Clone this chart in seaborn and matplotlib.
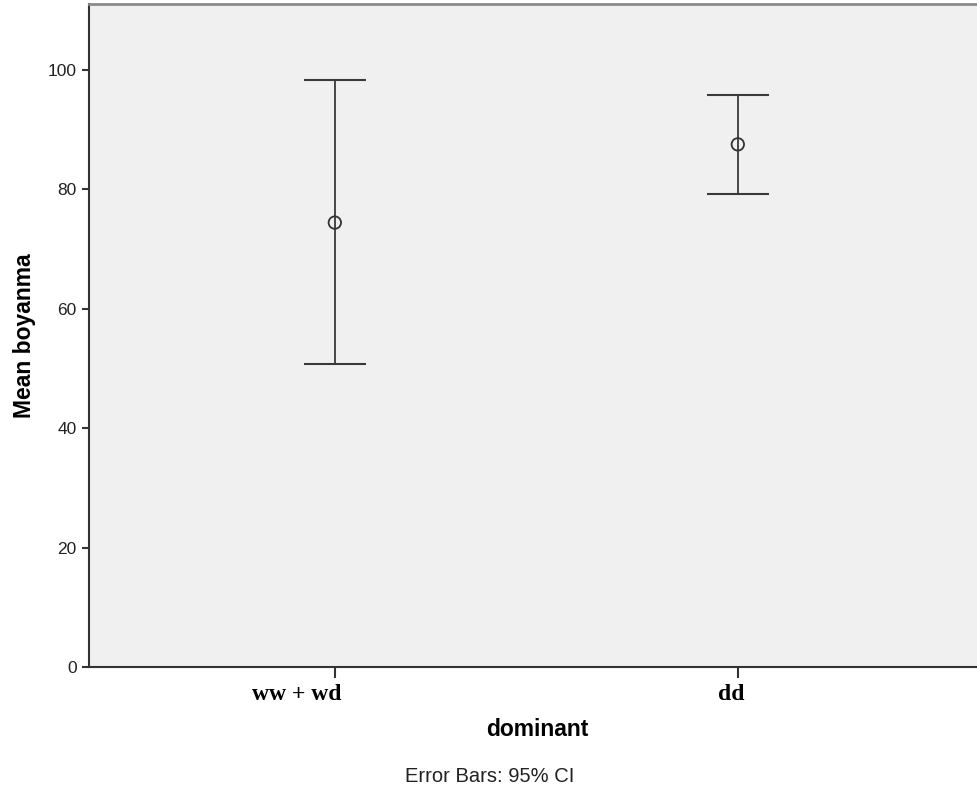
import matplotlib
matplotlib.use("Agg")
import matplotlib.pyplot as plt
import matplotlib.transforms as mtransforms
import seaborn as sns
import pandas as pd

categories = ["ww + wd", "dd"]
means = [74.4, 87.5]
ci_lower = [50.7, 79.2]
ci_upper = [98.2, 95.7]

sns.set_theme(style="white")
plt.rcParams['font.family'] = ['Liberation Sans', 'DejaVu Sans']

df = pd.DataFrame({"dominant": categories, "mean": means})

fig = plt.figure(figsize=(9.78, 7.94), dpi=100)
ax = fig.add_axes([89/978, 127/794, 1 - 89/978, (667-4)/794])
ax.set_facecolor("#F0F0F0")

xpos = list(range(len(categories)))
yerr = [[m - l for m, l in zip(means, ci_lower)], [u - m for m, u in zip(means, ci_upper)]]
ax.errorbar(xpos, means, yerr=yerr, fmt="none", ecolor="#3a3a3a", elinewidth=1.3,
            capsize=22, capthick=1.5, zorder=2)
sns.scatterplot(data=df, x="dominant", y="mean", ax=ax, marker="o", s=80,
                facecolor="none", edgecolor="#333333", linewidth=1.3, zorder=3)

ax.set_xlim(-0.61, 1.596)
ax.set_ylim(0, 111)
ax.set_yticks([0, 20, 40, 60, 80, 100])
ax.set_xticks(xpos)
ax.set_xticklabels([])
# SPSS-style labels: right edge slightly past the tick
offset = mtransforms.ScaledTranslation(7/100, -17/100, fig.dpi_scale_trans)
for xp, cat in zip(xpos, categories):
    ax.text(xp, 0, cat, transform=ax.get_xaxis_transform() + offset,
            ha="right", va="top", fontfamily="Liberation Serif", fontweight="bold",
            fontsize=17, color="black", clip_on=False)
ax.tick_params(axis="y", labelsize=12.5, length=5, width=1.5, color="#333333", pad=4,
               left=True, labelcolor="#222222")
ax.tick_params(axis="x", length=8, width=1.5, color="#333333", pad=5, bottom=True)

for s in ["left", "bottom"]:
    ax.spines[s].set_color("#333333")
    ax.spines[s].set_linewidth(1.5)
ax.spines["top"].set_color("#8a8a8a")
ax.spines["top"].set_linewidth(2)
ax.spines["right"].set_visible(False)

ax.set_xlabel("dominant", fontsize=16.5, fontweight="bold", color="black")
ax.xaxis.set_label_coords((537-89)/889, -(729-667)/663)
ax.xaxis.label.set_va("center")
ax.set_ylabel("Mean boyanma", fontsize=16.5, fontweight="bold", color="black")
ax.yaxis.set_label_coords(-(89-24)/889, 0.5)
ax.yaxis.label.set_va("center")

fig.text(490/978, 1 - 777/794, "Error Bars: 95% CI", ha="center", va="center",
         fontsize=14.5, color="#222222")

fig.savefig("out.png", dpi=100)
